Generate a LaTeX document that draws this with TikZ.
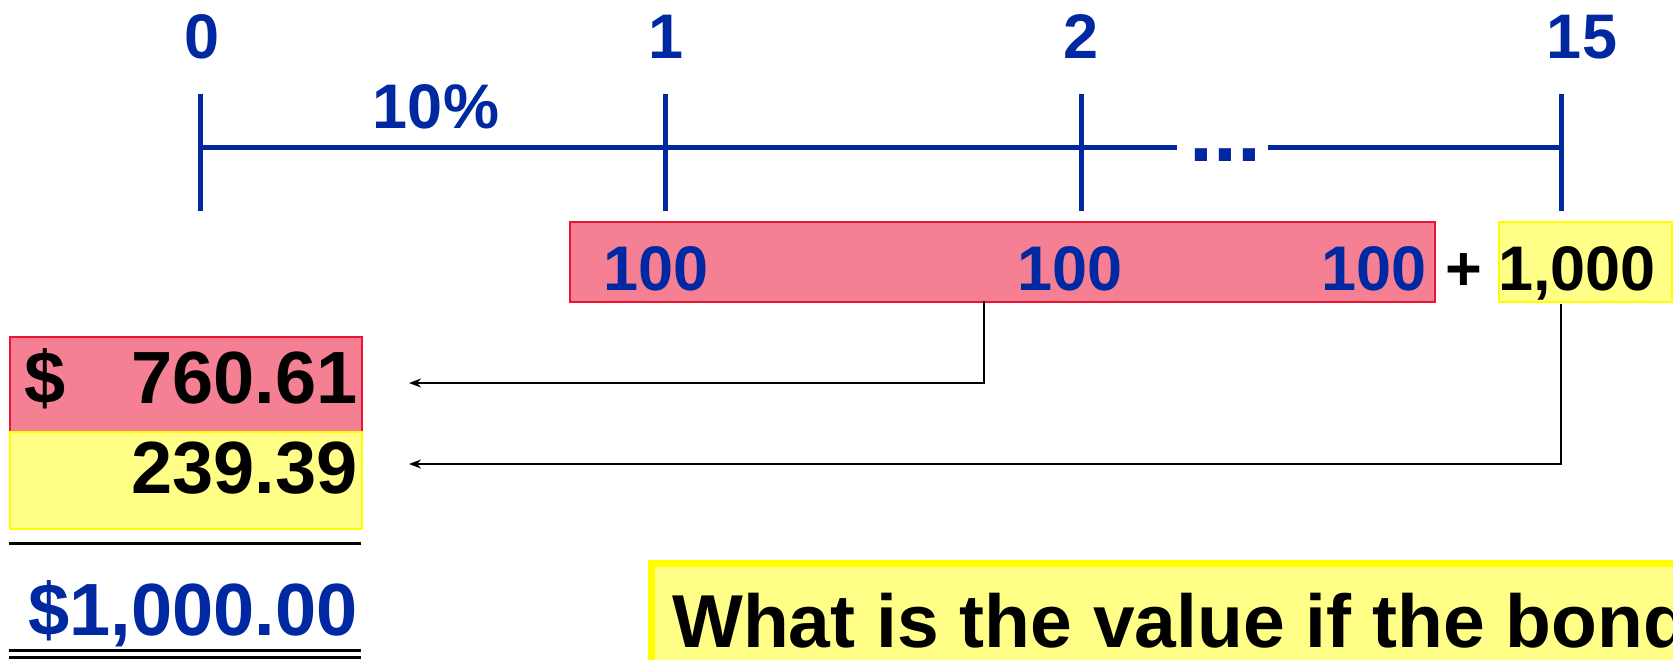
\documentclass[tikz,border=0pt]{standalone}
\usepackage{fontspec}
\setmainfont{Liberation Sans}
\usetikzlibrary{arrows.meta}
\definecolor{tblue}{RGB}{0,40,160}
\definecolor{pinkfill}{RGB}{245,128,148}
\definecolor{redline}{RGB}{235,20,50}
\definecolor{yelfill}{RGB}{255,255,135}
\definecolor{yelline}{RGB}{255,255,0}
\tikzset{
  tl/.style={line width=5pt, draw=tblue},
  lab/.style={font=\fontsize{63}{70}\selectfont\bfseries, text=tblue, inner sep=0pt, anchor=base},
  cf/.style={font=\fontsize{63}{70}\selectfont\bfseries, inner sep=0pt, anchor=base},
  big/.style={font=\fontsize{74}{80}\selectfont\bfseries, inner sep=0pt},
  redbox/.style={draw=redline, fill=pinkfill, line width=2pt, inner sep=0pt, anchor=north west},
  yelbox/.style={draw=yelline, fill=yelfill, line width=2pt, inner sep=0pt, anchor=north west},
  conn/.style={draw=black, line width=2pt, -{Stealth[length=12pt,width=9pt]}},
}
\begin{document}
\begin{tikzpicture}[x=1pt,y=-1pt]
\useasboundingbox (0,0) rectangle (1673,659);
% timeline
\coordinate (t0) at (200.5,147);
\coordinate (t1) at (665,147);
\coordinate (t2) at (1081,147);
\coordinate (t15) at (1561,147);
\coordinate (g1) at (1177,147);
\coordinate (g2) at (1268,147);
\draw[tl] (t0) -- (g1);
\draw[tl] (g2) -- (t15);
\foreach \t in {t0,t1,t2,t15}{
  \draw[tl] ([yshift=53pt]\t) -- ([yshift=-64pt]\t);
}
\node[lab] (l0) at (202,58) {0};
\node[lab] (l1) at (666,58) {1};
\node[lab] (l2) at (1081,58) {2};
\node[lab] (l15) at (1582,58) {15};
\node[lab] (rate) at (436,128) {10\%};
\node[font=\fontsize{86}{90}\selectfont\bfseries, text=tblue, inner sep=0pt, anchor=base west] (dots) at (1189,161) {...};
% cash flows
\node[redbox, minimum width=865pt, minimum height=80pt] (pay) at (569,221) {};
\node[lab] (c1) at (656,290) {100};
\node[lab] (c2) at (1070,290) {100};
\node[lab] (c15) at (1374,290) {100};
\node[cf] (plus) at (1464,290) {+};
\node[yelbox, minimum width=173pt, minimum height=80pt] (fvbox) at (1498,221) {};
\node[cf] (fv) at (1577,290) {1,000};
% present values
\node[redbox, minimum width=352pt, minimum height=95pt] (pvA) at (9,336) {};
\node[yelbox, minimum width=352pt, minimum height=97pt] (pvB) at (9,431) {};
\node[big, anchor=base west] (dol) at (24,403) {\$};
\node[big, anchor=base east] (vA) at (358,403) {760.61};
\node[big, anchor=base east] (vB) at (358,493) {239.39};
\draw[line width=3pt] (9,543) -- (361,543);
\node[big, anchor=base east, text=tblue] (tot) at (358,635) {\$1,000.00};
\draw[line width=3pt] (9,650) -- (361,650);
\draw[line width=3pt] (9,657) -- (361,657);
% connectors
\coordinate (s1) at (984,301);
\coordinate (e1) at (409,383);
\coordinate (s2) at (1561,304);
\coordinate (e2) at (409,464);
\draw[conn] (s1) |- (e1);
\draw[conn] (s2) |- (e2);
% question
\node[draw=yelline, fill=yelfill, line width=7pt, inner sep=0pt, anchor=north west, minimum width=1100pt, minimum height=150pt] (qbox) at (647.5,559.5) {};
\node[font=\fontsize{75}{80}\selectfont\bfseries, inner sep=0pt, anchor=base west] (q) at (672,647) {What is the value if the bond};
\end{tikzpicture}
\end{document}
